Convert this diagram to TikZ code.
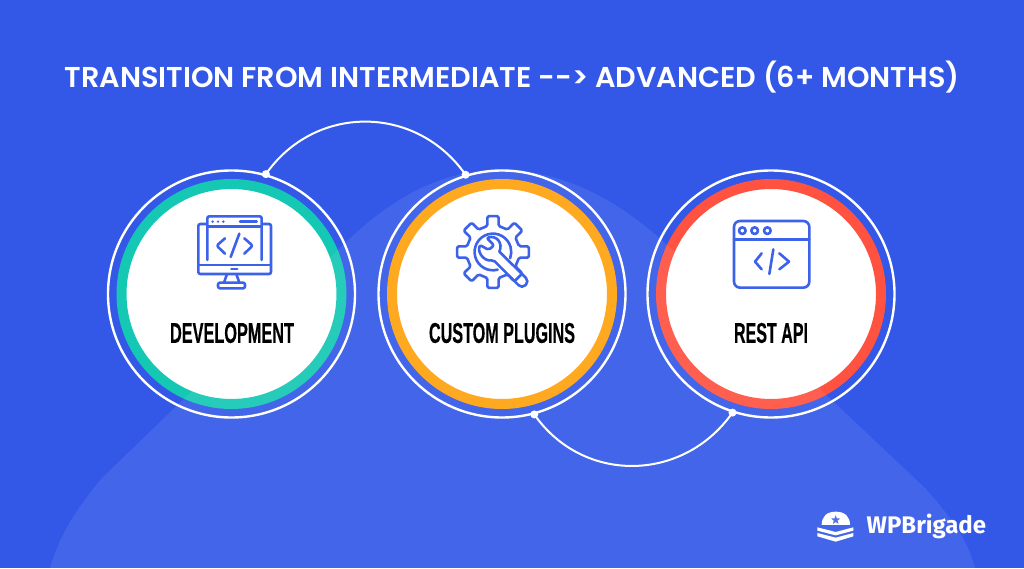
\documentclass[tikz,border=0pt]{standalone}
\usepackage{fontspec}
\usetikzlibrary{shapes.geometric}
\newfontfamily\titlefont{Poppins SemiBold}
\newfontfamily\capsfont[FakeBold=0.5]{Liberation Sans Bold}
\newfontfamily\logofont{Fira Sans Bold}
\definecolor{bgblue}{HTML}{3358E8}
\definecolor{iconblue}{HTML}{3D62EA}
\definecolor{tealring}{HTML}{14C8B4}
\definecolor{orangering}{HTML}{FFA20E}
\definecolor{redring}{HTML}{FF5240}
\newcommand{\capslabel}[2]{\resizebox{#1pt}{20pt}{\capsfont #2}}
\tikzset{
    outerring/.style={shape=circle,draw=white,line width=2.4pt,minimum size=247pt,inner sep=0pt},
    colorring/.style={shape=circle,draw=#1,fill=white,line width=10pt,minimum size=220pt,inner sep=0pt},
    dotpin/.style={shape=circle,fill=white,minimum size=8pt,inner sep=0pt},
    link/.style={draw=white,line width=2pt},
    iconline/.style={draw=iconblue,line width=2.6pt,line join=round,line cap=round},
}
\begin{document}
\begin{tikzpicture}[x=1pt,y=1pt]
    \useasboundingbox (0,0) rectangle (1024,568);
    \fill[bgblue] (0,0) rectangle (1024,568);

    \foreach \a/\n/\c in {231.5/dev/tealring, 502/plug/orangering, 771/rest/redring}
        {\node[colorring=\c] (\n disc) at (\a,274){};
        \node[outerring] (\n) at (\a,274){};}

    % the hill lies over the rings
    \fill[white,opacity=0.08] (50,0) .. controls (62,40) and (80,62) .. (100,88)
        -- (345,325) .. controls (400,378) and (450,398) .. (500,398)
        .. controls (555,398) and (610,375) .. (665,325)
        -- (925,80) .. controls (950,52) and (968,28) .. (975,0) -- cycle;

    \node[dotpin] (devpin) at (dev.74){};
    \node[dotpin] (plugtop) at (plug.107){};
    \node[dotpin] (plugpin) at (plug.-75){};
    \node[dotpin] (restpin) at (rest.-108){};
    \draw[link] (devpin.center) to[out=55,in=125,looseness=1.1] (plugtop.center);
    \draw[link] (plugpin.center) to[out=-55,in=-125,looseness=1.1] (restpin.center);

    \node[text=white,font=\titlefont\fontsize{28.7}{32}\selectfont] (title) at (512,491){TRANSITION FROM INTERMEDIATE --> ADVANCED (6+ MONTHS)};

    \node[inner sep=0pt,text=black] (devlabel) at (232,235){\capslabel{124}{DEVELOPMENT}};
    \node[inner sep=0pt,text=black] (pluglabel) at (502,235){\capslabel{146}{CUSTOM PLUGINS}};
    \node[inner sep=0pt,text=black] (restlabel) at (771,235){\capslabel{74}{REST API}};

    % monitor icon
    \begin{scope}[shift={(190,363)},x=0.3333pt,y=-0.3333pt,iconline,rounded corners=2pt]
        \draw (50,57) -- (25,57) -- (25,207) -- (243,207) -- (243,57) -- (218,57);
        \draw (25,180) -- (243,180);
        \draw (52,165) -- (52,34) -- (215,34) -- (215,165);
        \draw (52,65) -- (215,65);
        \draw (150,50) -- (200,50);
        \foreach \a in {68,84,100}
            {\fill[iconblue] (\a,50) circle (4);}
        \draw (105,100) -- (80,122) -- (105,146);
        \draw (148,86) -- (122,156);
        \draw (163,100) -- (188,122) -- (163,146);
        \draw (124,192) -- (142,192);
        \draw (110,210) -- (102,233);
        \draw (140,210) -- (148,233);
        \draw (84,233) -- (165,233) -- (165,250) -- (84,250) -- cycle;
    \end{scope}

    % gear icon
    \begin{scope}[shift={(493,316)},x=0.3333pt,y=-0.3333pt,iconline]
        \draw[rounded corners=1.5pt] (-12:80)
            \foreach \a in {0,45,...,315}
                {-- (\a-12:80) -- (\a-9:109) -- (\a+9:109) -- (\a+12:80)} -- cycle;
        \draw (14,53) arc[start angle=75,end angle=380,radius=55];
    \end{scope}
    \begin{scope}[shift={(440,368)},x=0.3333pt,y=-0.3333pt,iconline,rounded corners=2pt]
        \draw (178,155) -- (262,238) -- (262,250) -- (252,260) -- (240,260) -- (160,180)
            .. controls (135,185) and (112,160) .. (120,135)
            -- (146,150) -- (162,136) -- (140,114)
            .. controls (170,105) and (190,130) .. (178,155);
    \end{scope}

    % window icon
    \begin{scope}[shift={(720,358)},x=0.3333pt,y=-0.3333pt,iconline]
        \draw[rounded corners=6pt] (42,33) rectangle (268,233);
        \draw (42,88) -- (268,88);
        \foreach \a in {67,104,142}
            {\draw (\a,62) circle (10);}
        \draw (125,130) -- (105,155) -- (125,178);
        \draw (160,118) -- (148,192);
        \draw (178,130) -- (207,155) -- (178,178);
    \end{scope}

    % logo
    \begin{scope}[shift={(800,78)},x=0.3333pt,y=-0.3333pt]
        \fill[white] (65,105) .. controls (65,80) and (80,65) .. (107,65)
            .. controls (135,65) and (150,80) .. (150,105) -- cycle;
        \node[shape=star,star points=5,star point ratio=2.4,fill=bgblue!85!white,inner sep=0pt,minimum size=9.5pt] (logostar) at (107,90){};
        \fill[white] (52,112) -- (107,126) -- (160,112) -- (160,122) -- (107,136) -- (52,122) -- cycle;
        \fill[white] (52,129) -- (107,143) -- (160,129) -- (160,139) -- (107,155) -- (52,139) -- cycle;
    \end{scope}
    \node[text=white,font=\logofont\fontsize{24}{28}\selectfont,inner sep=0pt,anchor=base west] (logotext) at (866.5,35){WPBrigade};
\end{tikzpicture}
\end{document}
